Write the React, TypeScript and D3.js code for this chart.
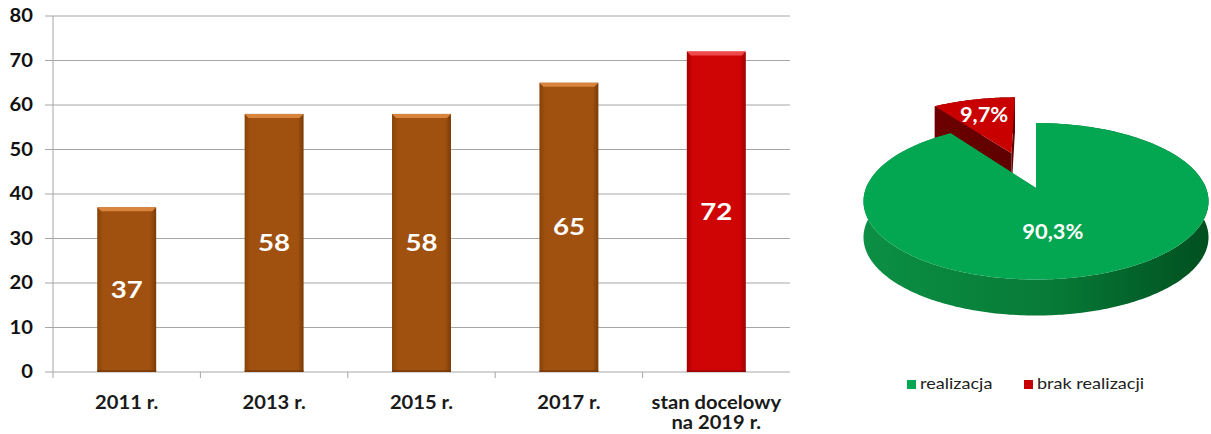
import { useEffect } from "react";
import * as d3 from "d3";

// bar chart data
const categories = ["2011 r.", "2013 r.", "2015 r.", "2017 r.", "stan docelowy|na 2019 r."];
const values = [37, 58, 58, 65, 72];
const targetFlags = [false, false, false, false, true];
const yTicks = [0, 10, 20, 30, 40, 50, 60, 70, 80];

// pie data
const pieNames = ["realizacja", "brak realizacji"];
const pieValues = [90.3, 9.7];
const pieLabels = ["90,3%", "9,7%"];
const pieColors = ["#03a651", "#c80000"];

const W = 1211;
const H = 434;
const font = "Lato, 'DejaVu Sans', sans-serif";

// text stretched a little horizontally, like the source
function T(props: {
  x: number;
  y: number;
  sx?: number;
  size: number;
  bold?: boolean;
  anchor?: string;
  fill: string;
  dy?: string;
  children: any;
}) {
  const { x, y, sx = 1.12, size, bold, anchor = "start", fill, dy, children } = props;
  return (
    <text
      transform={`translate(${x},${y}) scale(${sx},1)`}
      dy={dy}
      textAnchor={anchor}
      fontSize={size}
      fontWeight={bold ? 700 : 400}
      fill={fill}
    >
      {children}
    </text>
  );
}

export default function App() {
  useEffect(() => {
    document.body.style.margin = "0";
  }, []);

  // --- bar chart scales
  const x = d3.scaleBand<string>().domain(categories).range([53, 790]).paddingInner(0.6).paddingOuter(0.3);
  const y = d3.scaleLinear().domain([0, 80]).range([372, 16]);
  const step = x.step();

  // --- pie (perspective ellipse)
  const cx = 1036, cy = 188, rx = 170, ry = 76, persp = 0.17, depth = 36, explode = 0.52;
  const project = (u: number, v: number): [number, number] => {
    const f = 1 / (1 - persp * v);
    return [cx + rx * u * f, cy + ry * v * f];
  };
  const arcs = d3.pie<number>().sort(null).startAngle(0).endAngle(Math.PI * 2)(pieValues);
  const lineGen = d3.line();

  const slices = arcs.map((a, i) => {
    const mid = (a.startAngle + a.endAngle) / 2;
    const e = i === 1 ? explode : 0;
    const ex = e * Math.sin(mid);
    const ey = -e * Math.cos(mid);
    const pt = (th: number, r: number) => project(ex + r * Math.sin(th), ey - r * Math.cos(th));
    const n = Math.max(4, Math.ceil(((a.endAngle - a.startAngle) * 180) / Math.PI));
    const rim = d3.range(n + 1).map((k) => pt(a.startAngle + ((a.endAngle - a.startAngle) * k) / n, 1));
    const c = pt(0, 0);
    const down = (p: [number, number]): [number, number] => [p[0], p[1] + depth];
    const top = lineGen([c, ...rim]) + "Z";
    const outer = lineGen([...rim, ...rim.slice().reverse().map(down)]) + "Z";
    const side0 = lineGen([c, rim[0], down(rim[0]), down(c)]) + "Z";
    const side1 = lineGen([c, rim[n], down(rim[n]), down(c)]) + "Z";
    const lp = i === 1 ? pt(mid, 0.7) : pt(mid, 0.55);
    if (i === 0) lp[0] -= 14;
    return { i, top, outer, side0, side1, lp };
  });
  // draw far (exploded) slice first
  const order = [1, 0];

  return (
    <svg width={W} height={H} style={{ display: "block", background: "#fff" }} fontFamily={font}>
      <defs>
        <linearGradient id="brown" x1="0" x2="1" y1="0" y2="0">
          <stop offset="0" stopColor="#874207" />
          <stop offset="0.1" stopColor="#a0510f" />
          <stop offset="0.9" stopColor="#a0510f" />
          <stop offset="1" stopColor="#7a3b06" />
        </linearGradient>
        <linearGradient id="red" x1="0" x2="1" y1="0" y2="0">
          <stop offset="0" stopColor="#a80000" />
          <stop offset="0.1" stopColor="#cf0404" />
          <stop offset="0.9" stopColor="#cf0404" />
          <stop offset="1" stopColor="#9e0000" />
        </linearGradient>
        <linearGradient id="greenSide" gradientUnits="userSpaceOnUse" x1={cx - rx} x2={cx + rx} y1="0" y2="0">
          <stop offset="0" stopColor="#0b8f44" />
          <stop offset="0.55" stopColor="#077a37" />
          <stop offset="1" stopColor="#00501f" />
        </linearGradient>
        <linearGradient id="redSide" gradientUnits="userSpaceOnUse" x1={cx - rx} x2={cx} y1="0" y2="0">
          <stop offset="0" stopColor="#7a0000" />
          <stop offset="1" stopColor="#5a0000" />
        </linearGradient>
      </defs>

      {/* grid + y axis */}
      {yTicks.map((t) => (
        <g key={t}>
          <line x1={45} x2={790} y1={y(t)} y2={y(t)} stroke="#a6a6a6" strokeWidth={1} />
          <T x={33} y={y(t)} dy="0.35em" anchor="end" size={18} bold fill="#111">
            {t}
          </T>
        </g>
      ))}
      <line x1={53} x2={53} y1={y(80)} y2={y(0)} stroke="#a6a6a6" />
      {categories.slice(1).map((c, i) => {
        const tx = 53 + (i + 1) * step;
        return <line key={c} x1={tx} x2={tx} y1={y(0)} y2={y(0) + 6} stroke="#a6a6a6" />;
      })}
      <line x1={53} x2={53} y1={y(0)} y2={y(0) + 6} stroke="#a6a6a6" />

      {/* bars */}
      {categories.map((c, i) => {
        const x0 = x(c)!;
        const bw = x.bandwidth();
        const yt = y(values[i]);
        const target = targetFlags[i];
        const b = 4;
        return (
          <g key={c}>
            <rect x={x0} y={yt} width={bw} height={y(0) - yt} fill={target ? "url(#red)" : "url(#brown)"} />
            <polygon
              points={`${x0},${yt} ${x0 + bw},${yt} ${x0 + bw - b},${yt + b} ${x0 + b},${yt + b}`}
              fill={target ? "#ee4a4a" : "#d9843c"}
            />
            <rect x={x0} y={y(0) - 2} width={bw} height={2} fill={target ? "#8c0000" : "#6e3405"} opacity={0.6} />
            <T x={x0 + bw / 2} y={(yt + y(0)) / 2} dy="0.35em" anchor="middle" size={23} sx={1.2} bold fill="#fff">
              {values[i]}
            </T>
            {c.split("|").map((line, k) => (
              <T key={k} x={x0 + bw / 2} y={409 + k * 20} anchor="middle" size={18} bold fill="#1a1a1a">
                {line}
              </T>
            ))}
          </g>
        );
      })}

      {/* 3D pie */}
      {order.map((i) => {
        const s = slices[i];
        const sideFill = i === 0 ? "url(#greenSide)" : "url(#redSide)";
        return (
          <g key={i}>
            <path d={s.outer} fill={sideFill} />
            <path d={s.side0} fill={sideFill} />
            <path d={s.side1} fill={sideFill} />
            <path d={s.top} fill={pieColors[i]} />
          </g>
        );
      })}
      {order.map((i) => (
        <T
          key={"l" + i}
          x={slices[i].lp[0]}
          y={slices[i].lp[1]}
          dy="0.35em"
          anchor="middle"
          size={21}
          sx={1.04}
          bold
          fill="#fff"
        >
          {pieLabels[i]}
        </T>
      ))}

      {/* legend */}
      {pieNames.map((n, i) => {
        const lx = i === 0 ? 907 : 1024;
        return (
          <g key={n}>
            <rect x={lx} y={380} width={9} height={9} fill={pieColors[i]} />
            <T x={lx + 13} y={389} size={16} sx={1.13} fill="#222">
              {n}
            </T>
          </g>
        );
      })}
    </svg>
  );
}
